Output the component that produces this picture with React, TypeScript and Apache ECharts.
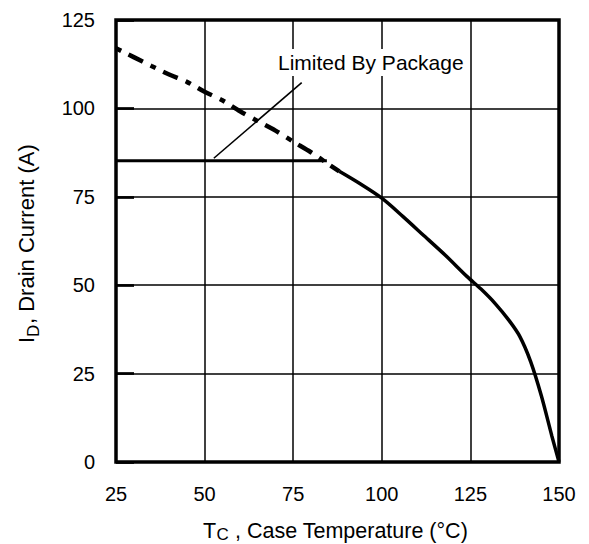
import React, { useEffect, useRef } from "react";
import * as echarts from "echarts";

// Axis ticks
const X_TICKS = [25, 50, 75, 100, 125, 150];
const Y_TICKS = [0, 25, 50, 75, 100, 125];

// Dashed (dash-dot) part of the curve: case temperature (°C) vs drain current (A)
const TEMP_DASHED = [25, 30, 35, 40, 45, 50, 55, 60, 65, 70, 75, 80, 85, 88];
const CURRENT_DASHED = [117, 114.5, 112, 109.6, 107.5, 104.7, 102.3, 99.2, 96.4, 93.7, 90.6, 87.6, 84.2, 82.2];

// Solid part of the curve
const TEMP_SOLID = [88, 94, 100, 106, 112, 118, 124, 128, 132, 136, 139, 142, 145, 148, 150];
const CURRENT_SOLID = [82.2, 78.6, 74.6, 69.4, 63.9, 58.4, 52.5, 48.9, 44.8, 39.9, 35.4, 28.4, 18.8, 7.3, 0];

// Package limit line
const PKG_TEMP = [25, 84.5];
const PKG_CURRENT = [85.2, 85.2];

// Leader line of the annotation
const LEADER_TEMP = [52.6, 77.4];
const LEADER_CURRENT = [85.9, 107.3];

const ANNOTATION = "Limited By Package";

const zip = (xs: number[], ys: number[]) => xs.map((x, i) => [x, ys[i]]);

export default function App() {
  const ref = useRef<HTMLDivElement>(null);

  useEffect(() => {
    if (!ref.current) return;
    const chart = echarts.init(ref.current, null, { renderer: "svg" });
    const FONT = "'Liberation Sans', Arial, Helvetica, sans-serif";
    const font = (s: number) => `${s}px ${FONT}`;

    const option: any = {
      animation: false,
      backgroundColor: "#fff",
      grid: {
        left: 116,
        right: 30,
        top: 20,
        bottom: 82,
        show: true,
        borderColor: "#000",
        borderWidth: 3.5,
        backgroundColor: "transparent",
      },
      xAxis: {
        type: "value",
        min: X_TICKS[0],
        max: X_TICKS[X_TICKS.length - 1],
        interval: X_TICKS[1] - X_TICKS[0],
        axisLine: { show: false },
        axisTick: { show: false },
        splitLine: { show: true, lineStyle: { color: "#000", width: 1.5 } },
        axisLabel: { color: "#000", fontSize: 20, fontFamily: FONT, margin: 22 },
      },
      yAxis: {
        type: "value",
        min: Y_TICKS[0],
        max: Y_TICKS[Y_TICKS.length - 1],
        interval: Y_TICKS[1] - Y_TICKS[0],
        axisLine: { show: false },
        axisTick: { show: true, inside: true, length: 18, lineStyle: { color: "#000", width: 2.7 } },
        splitLine: { show: true, lineStyle: { color: "#000", width: 1.5 } },
        axisLabel: { color: "#000", fontSize: 20, fontFamily: FONT, margin: 21 },
      },
      series: [
        {
          type: "line",
          data: zip(TEMP_DASHED, CURRENT_DASHED),
          showSymbol: false,
          smooth: 0.3,
          lineStyle: { color: "#000", width: 4.5, type: [6, 8, 16, 8.5], cap: "butt" },
          z: 5,
        },
        {
          type: "line",
          data: zip(TEMP_SOLID, CURRENT_SOLID),
          showSymbol: false,
          smooth: 0.3,
          lineStyle: { color: "#000", width: 3.5, type: "solid" },
          z: 5,
        },
        {
          type: "line",
          data: zip(PKG_TEMP, PKG_CURRENT),
          showSymbol: false,
          lineStyle: { color: "#000", width: 3.2 },
          z: 4,
        },
        {
          type: "line",
          data: zip(LEADER_TEMP, LEADER_CURRENT),
          showSymbol: false,
          lineStyle: { color: "#000", width: 1.6 },
          z: 4,
        },
      ],
      graphic: [
        {
          type: "text",
          x: 276,
          y: 62.5,
          z: 100,
          style: {
            text: ANNOTATION,
            font: font(21),
            fill: "#000",
            align: "left",
            verticalAlign: "middle",
            backgroundColor: "#fff",
            padding: [3, 2, 3, 2],
          },
        },
        // X axis title: T_C , Case Temperature (°C)
        {
          type: "text",
          x: 203,
          y: 530.5,
          style: { text: "T", font: font(21.5), fill: "#000", align: "left", verticalAlign: "middle" },
        },
        {
          type: "text",
          x: 216.5,
          y: 534.5,
          style: { text: "C", font: font(17), fill: "#000", align: "left", verticalAlign: "middle" },
        },
        {
          type: "text",
          x: 229,
          y: 530.5,
          style: { text: " , Case Temperature (°C)", font: font(21.5), fill: "#000", align: "left", verticalAlign: "middle" },
        },
        // Y axis title: I_D, Drain Current (A)
        {
          type: "group",
          x: 0,
          y: 343,
          rotation: Math.PI / 2,
          children: [
            {
              type: "text",
              x: 0,
              y: 26.4,
              style: { text: "I", font: font(22), fill: "#000", align: "left", verticalAlign: "middle" },
            },
            {
              type: "text",
              x: 6,
              y: 33.1,
              style: { text: "D", font: font(17), fill: "#000", align: "left", verticalAlign: "middle" },
            },
            {
              type: "text",
              x: 19,
              y: 26.4,
              style: { text: ", Drain Current (A)", font: font(22), fill: "#000", align: "left", verticalAlign: "middle" },
            },
          ],
        },
      ],
    };

    chart.setOption(option);
    return () => {
      chart.dispose();
    };
  }, []);

  return (
    <div
      ref={ref}
      style={{ position: "fixed", left: 0, top: 0, width: 589, height: 544, background: "#fff" }}
    />
  );
}
